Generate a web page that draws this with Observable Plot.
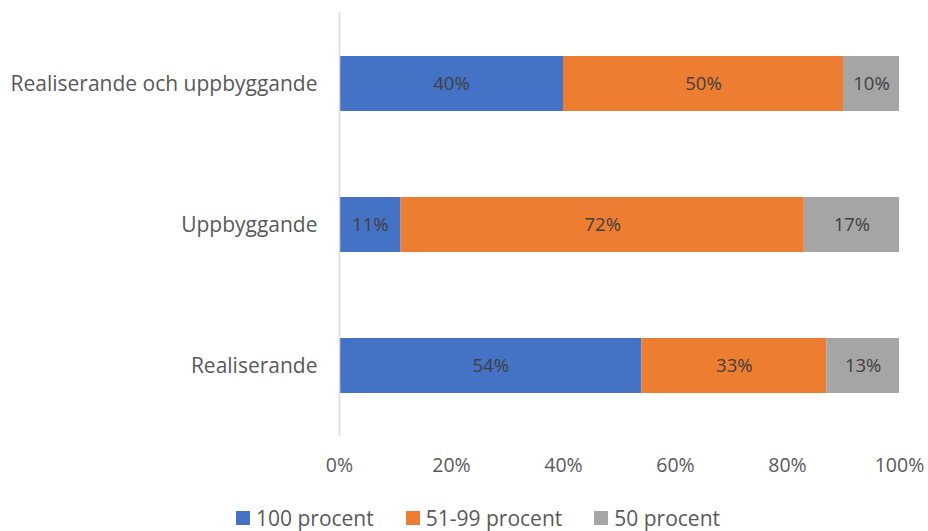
<!DOCTYPE html>
<html><head><meta charset="utf-8">
<script src="https://cdn.jsdelivr.net/npm/d3@7"></script>
<script src="https://cdn.jsdelivr.net/npm/@observablehq/plot@0.6"></script>
<style>
body{margin:0;background:#fff;font-family:"Open Sans",sans-serif;}
#legend{display:flex;justify-content:center;gap:32px;font-size:21px;color:#595959;height:33px;align-items:center;margin-top:7px;padding-left:28px;}
#legend span.sw{display:inline-block;width:14px;height:14px;margin-right:6px;vertical-align:middle;position:relative;top:-2px}
</style></head><body>
<div id="chart"></div>
<div id="legend"></div>
<script>
const categories = ["Realiserande och uppbyggande", "Uppbyggande", "Realiserande"];
const seriesNames = ["100 procent", "51-99 procent", "50 procent"];
const colors = ["#4472c4", "#ed7d31", "#a5a5a5"];
const v100 = [40, 11, 54];
const v5199 = [50, 72, 33];
const v50 = [10, 17, 13];
const xTicks = [0, 20, 40, 60, 80, 100];

const seriesValues = [v100, v5199, v50];
const data = [];
seriesNames.forEach((s, si) => categories.forEach((c, ci) => data.push({category: c, series: s, value: seriesValues[si][ci]})));

const chart = Plot.plot({
  width: 928, height: 494,
  marginLeft: 339, marginRight: 29, marginTop: 12, marginBottom: 58,
  style: {fontFamily: "'Open Sans', sans-serif", fontSize: "18px", color: "#595959"},
  x: {domain: [0, 100], label: null},
  y: {domain: categories, paddingInner: 0.61, paddingOuter: 0.305, label: null},
  color: {domain: seriesNames, range: colors},
  marks: [
    Plot.axisX({ticks: xTicks, tickFormat: d => d + "%", tickSize: 0, tickPadding: 22, fontSize: 19.5, fill: "#595959"}),
    Plot.axisY({tickSize: 0, tickPadding: 22, fontSize: 21, fill: "#595959"}),
    Plot.barX(data, Plot.stackX({x: "value", y: "category", fill: "series", order: seriesNames})),
    Plot.text(data, Plot.stackX({x: "value", y: "category", z: "series", order: seriesNames, text: d => d.value + "%", fill: "#404040", fontSize: 18.5})),
    Plot.ruleX([0], {stroke: "#d9d9d9", strokeWidth: 1.5})
  ]
});
document.getElementById("chart").appendChild(chart);

const leg = document.getElementById("legend");
seriesNames.forEach((s, i) => {
  const d = document.createElement("div");
  d.innerHTML = `<span class="sw" style="background:${colors[i]}"></span>${s}`;
  leg.appendChild(d);
});
</script>
</body></html>
